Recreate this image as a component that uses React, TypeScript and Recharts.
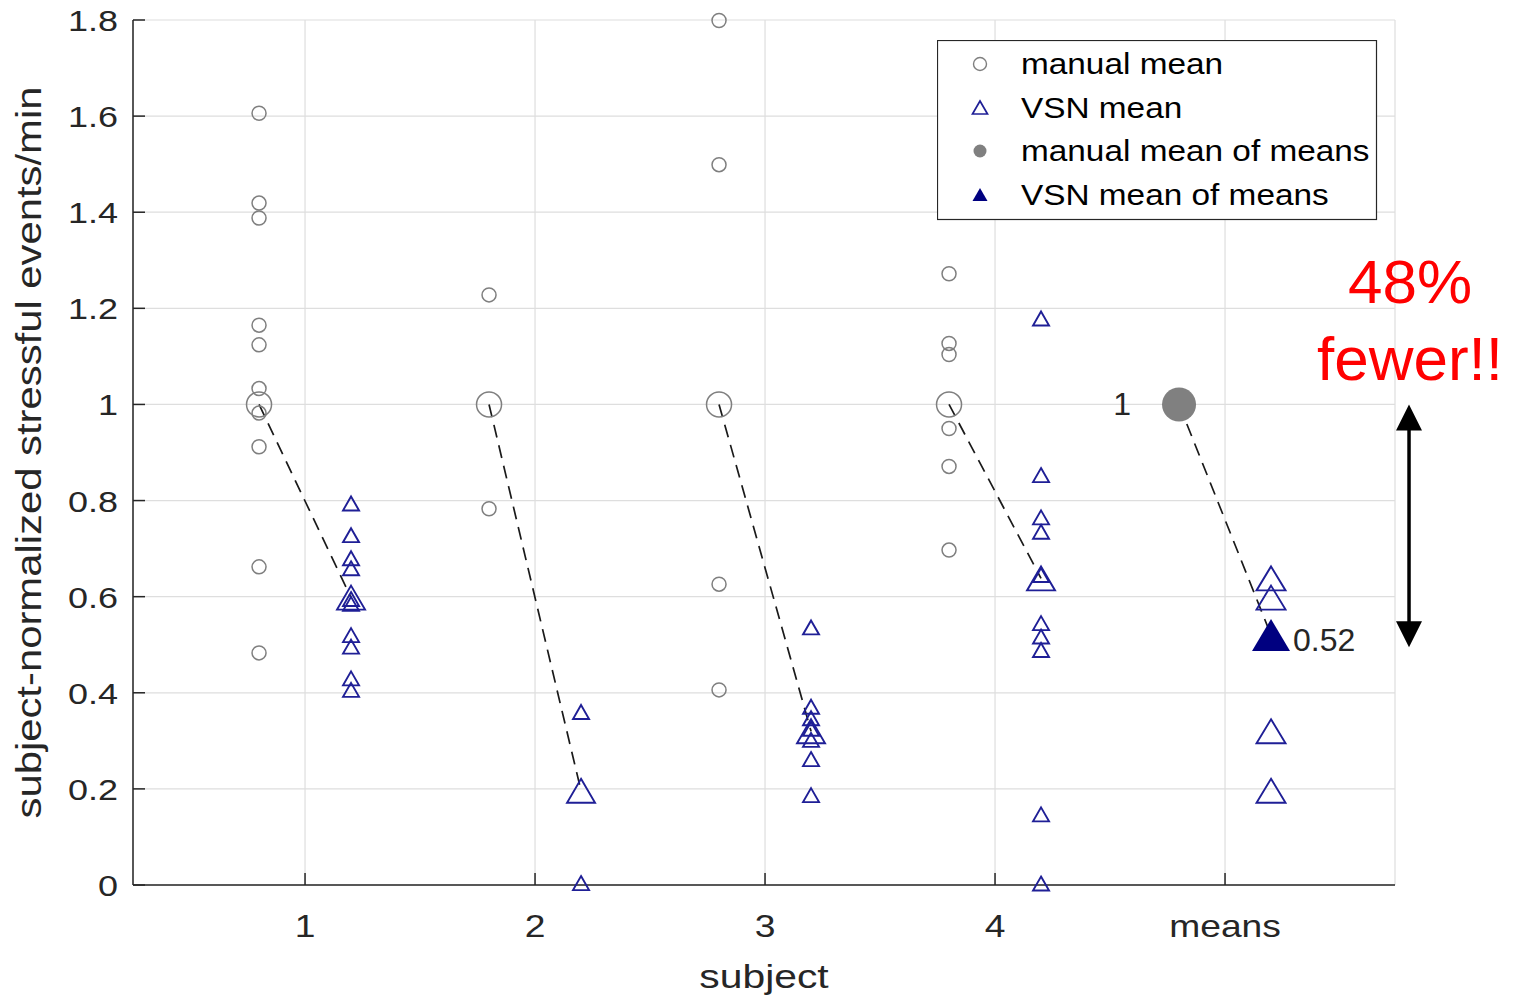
import React from 'react';
import {
  ScatterChart,
  Scatter,
  XAxis,
  YAxis,
  CartesianGrid,
  ReferenceLine,
  Legend,
} from 'recharts';

// categories
const subjectIds = [1, 2, 3, 4];
const meansPosition = 5;
const xTickLabels = ['1', '2', '3', '4', 'means'];
const yTicks = [0, 0.2, 0.4, 0.6, 0.8, 1, 1.2, 1.4, 1.6, 1.8];

// per-session manual means (normalized per subject)
const manualS1 = [1.606, 1.419, 1.388, 1.165, 1.124, 1.033, 0.982, 0.912, 0.662, 0.483];
const manualS2 = [1.228, 0.783];
const manualS3 = [1.799, 1.499, 0.626, 0.406];
const manualS4 = [1.272, 1.127, 1.104, 0.95, 0.871, 0.697];

// per-session VSN means
const vsnS1 = [0.794, 0.728, 0.68, 0.659, 0.595, 0.585, 0.52, 0.496, 0.43, 0.406];
const vsnS2 = [0.36, 0.004];
const vsnS3 = [0.536, 0.371, 0.347, 0.325, 0.302, 0.262, 0.187];
const vsnS4 = [1.179, 0.853, 0.765, 0.735, 0.645, 0.545, 0.517, 0.489, 0.147, 0.003];

// subject means and mean of means
const manualSubjectMeans = [1, 1, 1, 1];
const vsnSubjectMeans = [0.598, 0.196, 0.32, 0.638];
const manualMeanOfMeans = 1;
const vsnMeanOfMeans = 0.52;

// annotation
const arrowSpan = [1.0, 0.495];
const arrowX = 5.8;

const OFFSET = 0.2;
const GRAY = '#7f7f7f';
const BLUE = '#1f1f96';
const NAVY = '#000080';
const AXIS = '#262626';
const FONT = '"Liberation Sans", Arial, Helvetica, sans-serif';

const manualSessions = [manualS1, manualS2, manualS3, manualS4];
const vsnSessions = [vsnS1, vsnS2, vsnS3, vsnS4];

const manualSessionPts = subjectIds.flatMap((s, i) =>
  manualSessions[i].map((y) => ({ x: s - OFFSET, y }))
);
const vsnSessionPts = subjectIds.flatMap((s, i) =>
  vsnSessions[i].map((y) => ({ x: s + OFFSET, y }))
);
const manualMeanPts = subjectIds.map((s, i) => ({ x: s - OFFSET, y: manualSubjectMeans[i] }));
const vsnMeanPts = subjectIds.map((s, i) => ({ x: s + OFFSET, y: vsnSubjectMeans[i] }));
const vsnColumnPts = vsnSubjectMeans.map((y) => ({ x: meansPosition + OFFSET, y }));
const manualMoMPts = [{ x: meansPosition - OFFSET, y: manualMeanOfMeans }];
const vsnMoMPts = [{ x: meansPosition + OFFSET, y: vsnMeanOfMeans }];

const dashSegments = [
  ...subjectIds.map((s, i) => [
    { x: s - OFFSET, y: manualSubjectMeans[i] },
    { x: s + OFFSET, y: vsnSubjectMeans[i] },
  ]),
  [
    { x: meansPosition - OFFSET, y: manualMeanOfMeans },
    { x: meansPosition + OFFSET, y: vsnMeanOfMeans },
  ],
];

const openCircle = (r: number) => (props: any) =>
  <circle cx={props.cx} cy={props.cy} r={r} fill="none" stroke={GRAY} strokeWidth={1.5} />;

const triPoints = (cx: number, cy: number, w: number, h: number) =>
  `${cx},${cy - h / 2} ${cx + w / 2},${cy + h / 2} ${cx - w / 2},${cy + h / 2}`;

const openTriangle = (w: number, h: number) => (props: any) =>
  <polygon points={triPoints(props.cx, props.cy, w, h)} fill="none" stroke={BLUE} strokeWidth={1.9} />;

const ManualMoM = (props: any) => (
  <g>
    <circle cx={props.cx} cy={props.cy} r={17} fill="#808080" />
    <text x={props.cx - 48} y={props.cy + 11} textAnchor="end" fontSize={32} fontFamily={FONT} fill={AXIS}>
      {String(props.payload.y)}
    </text>
  </g>
);

const VsnMoM = (props: any) => (
  <g>
    <polygon points={triPoints(props.cx, props.cy, 38, 32)} fill={NAVY} />
    <text x={props.cx + 22} y={props.cy + 16} fontSize={32} fontFamily={FONT} fill={AXIS}>
      {props.payload.y.toFixed(2)}
    </text>
  </g>
);

const TICK_LEN = 12;

const YTick = (props: any) => {
  const { x, y, payload } = props;
  const v = payload.value;
  const label = v === 0 || v === 1 ? String(v) : v.toFixed(1);
  return (
    <g>
      <line x1={x} y1={y} x2={x + TICK_LEN} y2={y} stroke={AXIS} strokeWidth={1.5} />
      <text
        transform={`translate(${x - 15},${y + 11}) scale(1.2,1)`}
        textAnchor="end"
        fontSize={30}
        fontFamily={FONT}
        fill={AXIS}
      >
        {label}
      </text>
    </g>
  );
};

const XTick = (props: any) => {
  const { x, y, payload } = props;
  const label = xTickLabels[payload.value - 1];
  return (
    <g>
      <line x1={x} y1={y} x2={x} y2={y - TICK_LEN} stroke={AXIS} strokeWidth={1.5} />
      <text
        transform={`translate(${x},${y + 52}) scale(1.2,1)`}
        textAnchor="middle"
        fontSize={31}
        fontFamily={FONT}
        fill={AXIS}
      >
        {label}
      </text>
    </g>
  );
};

const XLabel = (props: any) => {
  const { x, y, width } = props.viewBox;
  return (
    <text
      transform={`translate(${x + width / 2},${y + 103}) scale(1.2,1)`}
      textAnchor="middle"
      fontSize={34}
      fontFamily={FONT}
      fill={AXIS}
    >
      subject
    </text>
  );
};

const YLabel = (props: any) => {
  const { y, height } = props.viewBox;
  return (
    <text
      transform={`translate(41,${y + height / 2}) rotate(-90)`}
      textAnchor="middle"
      fontSize={35}
      fontFamily={FONT}
      fill={AXIS}
      textLength={732}
      lengthAdjust="spacingAndGlyphs"
    >
      subject-normalized stressful events/min
    </text>
  );
};

const Arrow = (props: any) => {
  const { x1, y1, y2 } = props;
  const top = Math.min(y1, y2);
  const bot = Math.max(y1, y2);
  const head = 26;
  const hw = 13;
  return (
    <g>
      <line x1={x1} y1={top + head - 2} x2={x1} y2={bot - head + 2} stroke="#000" strokeWidth={3.5} />
      <polygon points={`${x1},${top} ${x1 + hw},${top + head} ${x1 - hw},${top + head}`} fill="#000" />
      <polygon points={`${x1},${bot} ${x1 + hw},${bot - head} ${x1 - hw},${bot - head}`} fill="#000" />
    </g>
  );
};

const legendItems = [
  { name: 'manual mean', kind: 'circle' },
  { name: 'VSN mean', kind: 'triangle' },
  { name: 'manual mean of means', kind: 'dot' },
  { name: 'VSN mean of means', kind: 'filledTriangle' },
];

const LegendBox = () => (
  <svg width={441} height={181} style={{ display: 'block' }}>
    <rect x={0.5} y={0.5} width={439} height={179} fill="#fff" stroke={AXIS} strokeWidth={1.2} />
    {legendItems.map((it, i) => {
      const cy = 24 + i * 43.5;
      const mx = 43;
      let marker: React.ReactNode = null;
      if (it.kind === 'circle')
        marker = <circle cx={mx} cy={cy} r={6.5} fill="none" stroke={GRAY} strokeWidth={1.4} />;
      if (it.kind === 'triangle')
        marker = <polygon points={triPoints(mx, cy, 15, 13)} fill="none" stroke={BLUE} strokeWidth={1.7} />;
      if (it.kind === 'dot') marker = <circle cx={mx} cy={cy} r={6.5} fill="#808080" />;
      if (it.kind === 'filledTriangle') marker = <polygon points={triPoints(mx, cy, 15, 13)} fill={NAVY} />;
      return (
        <g key={it.name}>
          {marker}
          <text
            transform={`translate(84,${cy + 10}) scale(1.15,1)`}
            fontSize={29}
            fontFamily={FONT}
            fill="#000"
          >
            {it.name}
          </text>
        </g>
      );
    })}
  </svg>
);

export default function App() {
  return (
    <div style={{ position: 'absolute', left: 0, top: 0, width: 1519, height: 1000, background: '#fff' }}>
      <ScatterChart
        width={1519}
        height={1000}
        margin={{ top: 20, right: 124, bottom: 0, left: 0 }}
      >
        <CartesianGrid stroke="#dedede" strokeWidth={1.2} />
        <XAxis
          type="number"
          dataKey="x"
          domain={[0.252, 5.739]}
          ticks={[1, 2, 3, 4, meansPosition]}
          height={115}
          tickSize={0}
          tickMargin={0}
          tickLine={false}
          axisLine={{ stroke: AXIS, strokeWidth: 1.5 }}
          tick={<XTick />}
          label={<XLabel />}
        />
        <YAxis
          type="number"
          dataKey="y"
          domain={[0, 1.8]}
          ticks={yTicks}
          width={133}
          tickSize={0}
          tickMargin={0}
          tickLine={false}
          axisLine={{ stroke: AXIS, strokeWidth: 1.5 }}
          tick={<YTick />}
          label={<YLabel />}
        />
        <Scatter data={manualSessionPts} shape={openCircle(7)} isAnimationActive={false} />
        <Scatter data={manualMeanPts} shape={openCircle(12.5)} isAnimationActive={false} />
        <Scatter data={vsnSessionPts} shape={openTriangle(16, 14)} isAnimationActive={false} />
        <Scatter data={vsnMeanPts} shape={openTriangle(28, 24)} isAnimationActive={false} />
        <Scatter data={vsnColumnPts} shape={openTriangle(29, 24)} isAnimationActive={false} />
        <Scatter data={manualMoMPts} shape={ManualMoM} isAnimationActive={false} />
        <Scatter data={vsnMoMPts} shape={VsnMoM} isAnimationActive={false} />
        {dashSegments.map((seg, i) => (
          <ReferenceLine
            key={`dash-${i}`}
            segment={seg}
            stroke="#1a1a1a"
            strokeWidth={1.7}
            strokeDasharray="13 8"
            ifOverflow="visible"
          />
        ))}
        <ReferenceLine
          segment={[
            { x: arrowX, y: arrowSpan[0] },
            { x: arrowX, y: arrowSpan[1] },
          ]}
          ifOverflow="visible"
          shape={Arrow}
        />
        <Legend
          layout="vertical"
          align="center"
          verticalAlign="middle"
          wrapperStyle={{ left: 937, top: 40, width: 441, height: 181 }}
          content={() => <LegendBox />}
        />
      </ScatterChart>
      <svg
        width={1519}
        height={1000}
        style={{ position: 'absolute', left: 0, top: 0, pointerEvents: 'none' }}
      >
        <text x={1410} y={303} textAnchor="middle" fontSize={62} fontFamily={FONT} fill="#ff0000">
          48%
        </text>
        <text x={1410} y={380} textAnchor="middle" fontSize={62} fontFamily={FONT} fill="#ff0000">
          fewer!!
        </text>
      </svg>
    </div>
  );
}
